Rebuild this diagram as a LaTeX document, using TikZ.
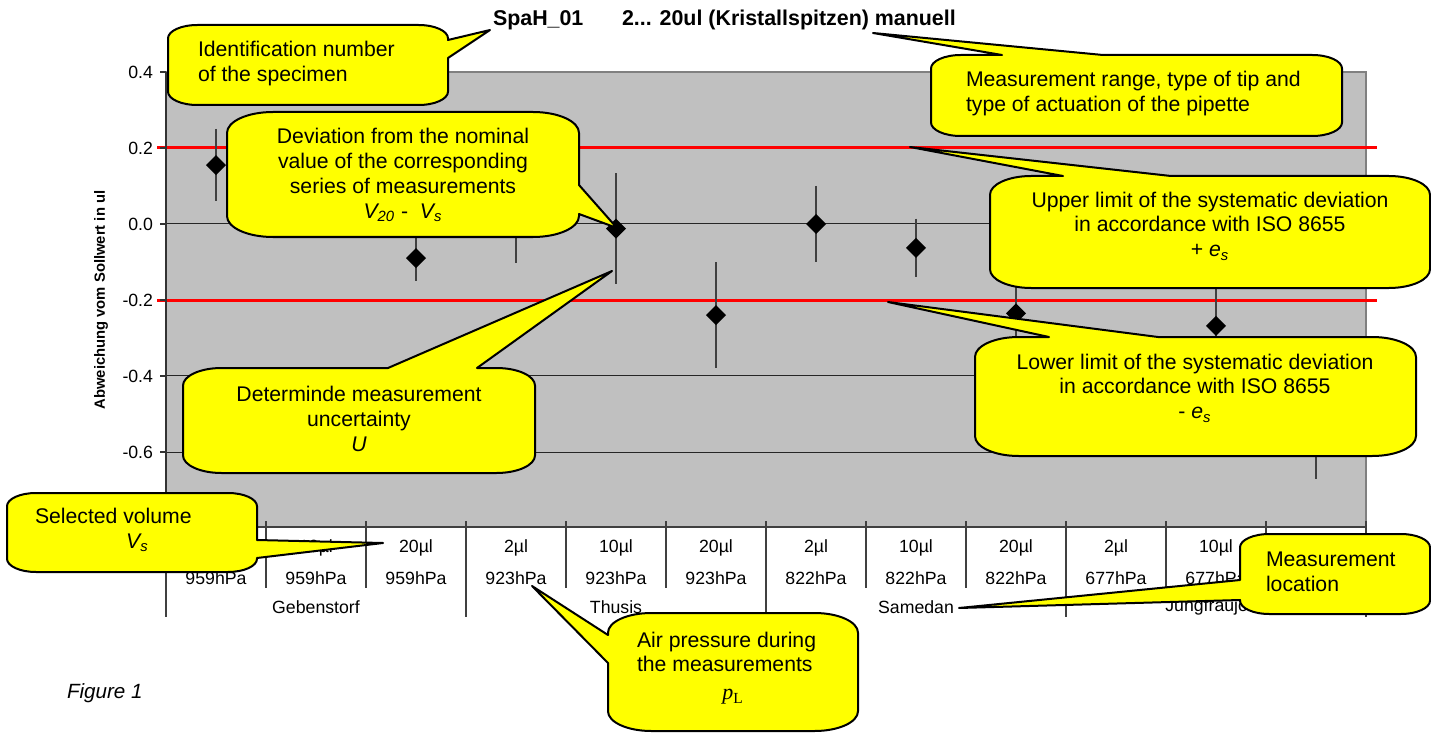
\documentclass[tikz,border=0pt]{standalone}
\usepackage{fontspec}
\setmainfont{Liberation Sans}
\newfontfamily\timesfont{Liberation Serif}
\usetikzlibrary{positioning,shapes.geometric}
\definecolor{plotgray}{RGB}{192,192,192}
\definecolor{edgegray}{RGB}{128,128,128}
\definecolor{noteyellow}{RGB}{255,255,0}

% #1,#2 top left  #3,#4 bottom right  #5 top wedge  #6 right wedge  #7 left wedge
\newcommand\balloon[7]{%
  \pgfmathsetmacro\brx{0.367*(#4-#2)}%
  \pgfmathsetmacro\bry{0.167*(#4-#2)}%
  \draw[balloon] ({#1+\brx},#2) #5 -- ({#3-\brx},#2)
    .. controls ({#3-0.448*\brx},#2) and (#3,{#2+0.448*\bry}) .. (#3,{#2+\bry})
    #6 -- (#3,{#4-\bry})
    .. controls (#3,{#4-0.448*\bry}) and ({#3-0.448*\brx},#4) .. ({#3-\brx},#4)
    -- ({#1+\brx},#4)
    .. controls ({#1+0.448*\brx},#4) and (#1,{#4-0.448*\bry}) .. (#1,{#4-\bry})
    #7 -- (#1,{#2+\bry})
    .. controls (#1,{#2+0.448*\bry}) and ({#1+0.448*\brx},#2) .. ({#1+\brx},#2) -- cycle;%
}

\begin{document}
\begin{tikzpicture}[x=0.5pt,y=-0.5pt,
  every node/.style={inner sep=0pt,outer sep=0pt},
  balloon/.style={fill=noteyellow,draw=black,line width=1pt,line join=round},
  btext/.style={font=\fontsize{10.6}{12.4}\selectfont},
  ticklabel/.style={font=\fontsize{8.85}{10}\selectfont},
  gridline/.style={draw=black!85,line width=0.5pt},
  limitline/.style={draw=red,line width=1.5pt},
  errbar/.style={draw=black!75,line width=0.55pt},
  datapoint/.style={diamond,aspect=1,fill=black,minimum width=10pt,minimum height=10pt}]
\useasboundingbox (0,0) rectangle (1431,733);

\fill[plotgray] (166,72) rectangle (1366,527);
\draw[edgegray,line width=1pt] (166,72) -- (1366,72) -- (1366,527);
\foreach \v in {0.2,0,-0.2,-0.4,-0.6}
  \draw[gridline] (166,{224-380*\v}) -- (1366,{224-380*\v});
\draw[limitline] (157,148) -- (1377,148);
\draw[limitline] (157,300) -- (1377,300);

\foreach \i/\v/\e in {1/0.155/0.095,2/0.08/0.06,3/-0.09/0.06,4/0.01/0.113,
    5/-0.012/0.146,6/-0.24/0.14,7/0/0.1,8/-0.063/0.077,9/-0.235/0.12,
    10/-0.05/0.08,11/-0.268/0.12,12/-0.5/0.17}{
  \draw[errbar] ({116+100*\i},{224-380*(\v+\e)}) -- ({116+100*\i},{224-380*(\v-\e)});
  \node[datapoint] (p\i) at ({116+100*\i},{224-380*\v}) {};
}

\draw[black!80,line width=0.6pt] (166,72) -- (166,527);
\draw[black!75,line width=0.9pt] (166,527) -- (1366,527);
\foreach \v/\t [count=\k] in {0.4/0.4,0.2/0.2,0/0.0,-0.2/-0.2,-0.4/-0.4,-0.6/-0.6}{
  \draw[black!80,line width=0.6pt] (160,{224-380*\v}) -- (166,{224-380*\v});
  \node[ticklabel,anchor=east] (ytick\k) at (153,{224-380*\v}) {\t};
}
\node[font=\bfseries\fontsize{7.4}{8}\selectfont,rotate=90] (ylabel) at (101,300) {Abweichung vom Sollwert in ul};

\foreach \k in {0,...,12}{
  \pgfmathsetmacro\yend{mod(\k,3)==0 ? 617 : 588}
  \draw[black!75,line width=0.55pt] ({166+100*\k},521) -- ({166+100*\k},\yend);
}
\foreach \vol [count=\k] in {2µl,10µl,20µl,2µl,10µl,20µl,2µl,10µl,20µl,2µl,10µl,20µl}
  \node[ticklabel] (vol\k) at ({116+100*\k},548) {\vol};
\foreach \hpa [count=\k] in {959,959,959,923,923,923,822,822,822,677,677,677}
  \node[ticklabel] (pres\k) at ({116+100*\k},578) {\hpa hPa};
\foreach \loc [count=\k] in {Gebenstorf,Thusis,Samedan,Jungfraujoch}
  \node[ticklabel] (loc\k) at ({16+300*\k},607) {\loc};

\node[font=\bfseries\fontsize{10.7}{12}\selectfont,anchor=west] (specimen) at (493,20) {SpaH\_01};
\node[font=\bfseries\fontsize{10.7}{12}\selectfont,anchor=west] (pipette) at (622,20) {2... 20ul (Kristallspitzen) manuell};
\node[font=\itshape\fontsize{10.3}{12}\selectfont,anchor=west] (figure) at (67,693) {Figure 1};

\balloon{168}{25}{448}{105}{}{-- (448,40) -- (490,30) -- (448,58)}{}
\balloon{227}{112}{579}{237}{}{-- (579,185) -- (617,228) -- (579,214)}{}
\balloon{183}{368}{535}{473}{-- (388,368) -- (612,271) -- (477,368)}{}{}
\balloon{7}{493}{257}{572}{}{-- (257,540) -- (383,543) -- (257,558)}{}
\balloon{608}{613}{858}{731}{}{}{-- (608,663) -- (532,586) -- (608,635)}
\balloon{931}{55}{1342}{136}{-- (1002,55) -- (873,33) -- (1103,55)}{}{}
\balloon{990}{176}{1430}{288}{-- (1063,176) -- (910,147) -- (1171,176)}{}{}
\balloon{975}{337}{1416}{456}{-- (1049,337) -- (888,302) -- (1158,337)}{}{}
\balloon{1240}{534}{1430}{614}{}{}{-- (1240,600) -- (959,608) -- (1240,580)}

\node[btext,anchor=west,align=left] (idnum) at (198,63.5) {Identification number\\of the specimen};
\node[btext,align=center] (deviation) at (403,175) {Deviation from the nominal\\value of the corresponding\\series of measurements\\\textit{V\textsubscript{20}} -\ \ \textit{V\textsubscript{s}}};
\node[btext,align=center] (uncertainty) at (359,419) {Determinde measurement\\uncertainty\\\textit{U}};
\node[btext,anchor=west,align=left] (volume) at (35,530) {Selected volume\\\hspace*{4.3em}\textit{V\textsubscript{s}}};
\node[btext,anchor=west,align=left] (pressure) at (637,652) {Air pressure during\\the measurements};
\node[font=\timesfont\itshape\fontsize{11}{12}\selectfont] (pl) at (733,697) {p\textsubscript{\upshape L}};
\node[btext,anchor=west,align=left] (range) at (966,93.5) {Measurement range, type of tip and\\type of actuation of the pipette};
\node[btext,align=center] (upper) at (1210,226) {Upper limit of the systematic deviation\\in accordance with ISO 8655\\+ \textit{e\textsubscript{s}}};
\node[btext,align=center] (lower) at (1195,388) {Lower limit of the systematic deviation\\in accordance with ISO 8655\\- \textit{e\textsubscript{s}}};
\node[btext,anchor=west,align=left] (location) at (1266,571.5) {Measurement\\location};
\end{tikzpicture}
\end{document}
